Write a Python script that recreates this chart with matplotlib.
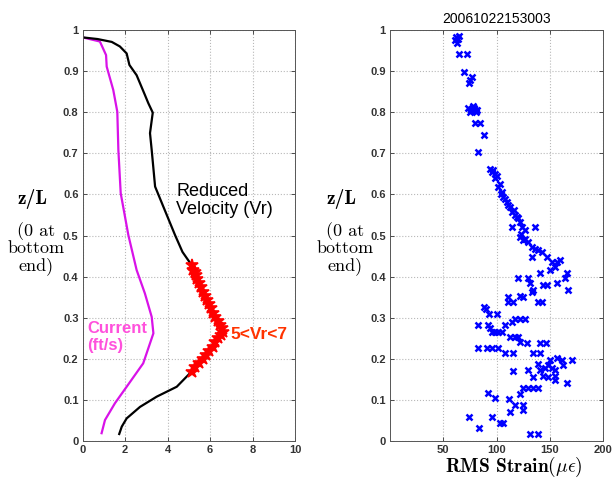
import matplotlib

matplotlib.use("Agg")

import matplotlib.pyplot as plt

W, H = 614, 478

# left panel: reduced velocity profile and current profile
vr_x = [0.0, 0.7, 1.37, 1.75, 2.07, 2.2, 2.54, 2.93, 3.09, 3.30, 3.17, 3.25,
        3.41, 3.80, 4.35, 4.70, 5.13, 5.32, 5.49, 5.67, 5.84, 6.03, 6.23, 6.47,
        6.62, 6.39, 6.12, 5.81, 5.48, 5.13, 4.43, 3.49, 2.70, 2.07, 1.84, 1.72]
vr_z = [0.982, 0.978, 0.971, 0.960, 0.943, 0.915, 0.890, 0.842, 0.822, 0.799,
        0.749, 0.708, 0.619, 0.570, 0.501, 0.460, 0.428, 0.404, 0.384, 0.363,
        0.343, 0.323, 0.302, 0.282, 0.266, 0.250, 0.229, 0.209, 0.189, 0.169,
        0.132, 0.108, 0.083, 0.055, 0.035, 0.017]

# points where 5 < Vr < 7
lock_x = [5.13, 5.20, 5.27, 5.32, 5.40, 5.49, 5.58, 5.67, 5.75, 5.84, 5.93,
          6.03, 6.13, 6.23, 6.35, 6.47, 6.55, 6.62, 6.52, 6.39, 6.25, 6.12,
          5.96, 5.81, 5.65, 5.48, 5.30, 5.13]
lock_z = [0.428, 0.416, 0.410, 0.404, 0.394, 0.384, 0.374, 0.363, 0.353,
          0.343, 0.333, 0.323, 0.312, 0.302, 0.292, 0.282, 0.274, 0.266,
          0.258, 0.250, 0.240, 0.229, 0.219, 0.209, 0.199, 0.189, 0.179, 0.169]

cur_x = [0.0, 0.81, 1.10, 1.13, 1.44, 1.63, 1.68, 1.79, 2.15, 2.54, 2.93,
         3.25, 3.33, 2.85, 2.07, 1.52, 1.05, 0.89]
cur_z = [0.982, 0.972, 0.939, 0.911, 0.854, 0.801, 0.708, 0.603, 0.501,
         0.416, 0.359, 0.302, 0.262, 0.189, 0.132, 0.092, 0.051, 0.019]

# right panel: RMS strain along the riser
rms_strain = [
    62, 64, 61, 63, 65, 65, 72, 69.5, 76.7, 74.5, 75,
    73, 76, 79, 82, 75, 78, 81, 80, 80, 84.5, 88.3, 83,
    94, 97, 98.6, 95.5, 98.6, 100, 101.7, 103, 104.9, 106.4, 104, 109.6, 108,
    112.7, 111, 114.3, 117.4, 116, 120.5, 122, 119, 114.3, 136.2, 126.8, 124,
    122, 125.2, 123, 129.9, 127, 133, 139.3, 142.4, 136, 133, 147.1, 151.8,
    156.5, 159.6, 154.9, 140.8, 150.2, 165.9, 164.3, 120.5, 129.9, 131.5,
    143.9, 147.1, 156.5, 167.4, 134.6, 133, 111.1, 122, 125.2, 111.1, 115.8,
    139.3, 142.4,
    88.3, 90.1, 93.3, 100.8, 83, 92.3, 93.9, 95.5, 98.6, 101.7, 104.9, 108,
    114.3, 117.4, 122, 126.8, 112.7, 117.4, 120.5, 122, 128.4, 140.8, 146.5,
    83, 90.8, 95.5, 101.7, 108, 115.8, 134.6, 140.8, 139.3, 150.2, 156.5,
    161.3, 170.6, 129.9, 140.8, 145.5, 151.8, 148.7, 154.9, 162.7, 115.8,
    134.6, 144, 148.7, 154.9, 154.9, 165.9, 125.2, 129.9, 134.6, 139.3, 122,
    92.3, 98.6, 112, 117.4, 125.2, 112.7, 125.2, 74.5, 95.5, 103.3, 105.8,
    83.9, 131.5, 139.3,
]
rms_z = [
    0.982, 0.978, 0.975, 0.968, 0.985, 0.942, 0.942, 0.899, 0.885, 0.870, 0.878,
    0.810, 0.805, 0.810, 0.805, 0.800, 0.815, 0.800, 0.805, 0.773, 0.773, 0.745,
    0.702,
    0.663, 0.660, 0.650, 0.655, 0.640, 0.645, 0.619, 0.625, 0.607, 0.594, 0.600,
    0.582, 0.588, 0.570, 0.575, 0.558, 0.550, 0.562, 0.542, 0.534, 0.545, 0.521,
    0.521, 0.513, 0.520, 0.497, 0.489, 0.503, 0.485, 0.492, 0.473, 0.465, 0.461,
    0.468, 0.448, 0.448, 0.436, 0.436, 0.440, 0.424, 0.408, 0.416, 0.408, 0.396,
    0.396, 0.396, 0.384, 0.380, 0.380, 0.384, 0.367, 0.367, 0.363, 0.351, 0.353,
    0.351, 0.339, 0.339, 0.339, 0.337,
    0.327, 0.320, 0.309, 0.309, 0.282, 0.282, 0.274, 0.266, 0.266, 0.266, 0.266,
    0.282, 0.290, 0.296, 0.296, 0.296, 0.254, 0.254, 0.254, 0.242, 0.239, 0.239,
    0.239, 0.226, 0.226, 0.226, 0.226, 0.215, 0.215, 0.215, 0.215, 0.187, 0.197,
    0.201, 0.197, 0.197, 0.173, 0.173, 0.177, 0.177, 0.185, 0.173, 0.185, 0.171,
    0.156, 0.158, 0.155, 0.158, 0.148, 0.142, 0.128, 0.128, 0.128, 0.128, 0.114,
    0.116, 0.104, 0.101, 0.088, 0.088, 0.071, 0.075, 0.059, 0.059, 0.045, 0.045,
    0.032, 0.016, 0.016,
]

z_ticks = [0, 0.1, 0.2, 0.3, 0.4, 0.5, 0.6, 0.7, 0.8, 0.9, 1]
z_ticklabels = ["0", "0.1", "0.2", "0.3", "0.4", "0.5", "0.6", "0.7", "0.8", "0.9", "1"]
vr_ticks = [0, 2, 4, 6, 8, 10]
strain_ticks = [50, 100, 150, 200]
side_note = ["(0 at", "bottom", "end)"]

TICK_FONT = dict(family="Liberation Sans", weight="bold", size=8)
plt.rcParams["mathtext.fontset"] = "cm"


def style_axes(ax):
    ax.set_ylim(0, 1)
    ax.set_yticks(z_ticks)
    ax.set_yticklabels(z_ticklabels, fontdict=TICK_FONT)
    ax.grid(True, color="#b8b8b8", linestyle=":", linewidth=0.8)
    ax.set_axisbelow(True)
    ax.tick_params(direction="in", length=3, width=0.6, top=True, right=True,
                   colors="#333333", pad=3)
    for sp in ax.spines.values():
        sp.set_color("#555555")
        sp.set_linewidth(0.7)


def fx(px):
    return px / W


def fy(py):
    return 1 - py / H


fig = plt.figure(figsize=(W / 100, H / 100), dpi=100)
fig.patch.set_facecolor("white")

ax1 = fig.add_axes([fx(82.7), fy(441), (295 - 82.7) / W, 411 / H])
ax2 = fig.add_axes([fx(390), fy(441), (603 - 390) / W, 411 / H])

ax1.plot(cur_x, cur_z, color="#d812e8", linewidth=1.6)
ax1.plot(vr_x, vr_z, color="black", linewidth=1.6)
ax1.plot(lock_x, lock_z, linestyle="none", marker="*", color="red",
         markersize=9, markeredgewidth=1.2)
ax1.set_xlim(0, 10)
ax1.set_xticks(vr_ticks)
ax1.set_xticklabels([str(t) for t in vr_ticks], fontdict=TICK_FONT)
style_axes(ax1)

ax1.text(4.4, 0.586, "Reduced\nVelocity (Vr)", fontsize=13,
         family="Liberation Sans", va="center", ha="left", linespacing=1.1)
ax1.text(0.2, 0.253, "Current\n(ft/s)", fontsize=12, family="Liberation Sans",
         weight="bold", color="#ff50dc", va="center", ha="left", linespacing=1.1)
ax1.text(6.98, 0.258, "5<Vr<7", fontsize=12.5, family="Liberation Sans",
         weight="bold", color="#ff3300", va="center", ha="left")

ax2.plot(rms_strain, rms_z, linestyle="none", marker="x", color="blue",
         markersize=5, markeredgewidth=1.8)
ax2.set_xlim(0, 200)
ax2.set_xticks(strain_ticks)
ax2.set_xticklabels([str(t) for t in strain_ticks], fontdict=TICK_FONT)
style_axes(ax2)
ax2.set_title("20061022153003", fontsize=10, family="Liberation Sans", pad=5)

fig.text(fx(514), fy(472), r"RMS Strain$(\mu\epsilon)$", family="cmb10",
         fontsize=14, ha="center", va="baseline")

# y labels, one line per text so the note stays clear of the tick labels
for cx, lx in [(33, 36), (342, 345)]:
    fig.text(fx(cx), fy(204), r"z/L", family="cmb10", fontsize=14,
             ha="center", va="baseline")
    for line, base in zip(side_note, [236, 253, 270]):
        fig.text(fx(lx), fy(base), line, family="cmr10", fontsize=13,
                 ha="center", va="baseline")

fig.savefig("out.png", dpi=100, facecolor="white")
